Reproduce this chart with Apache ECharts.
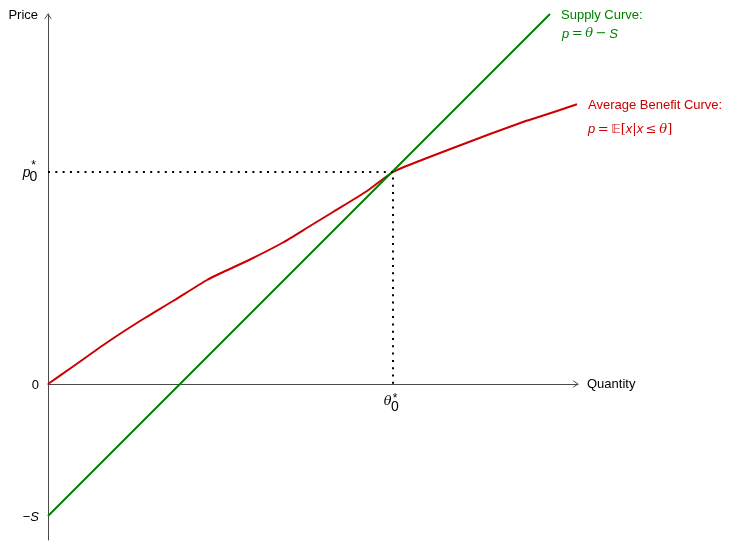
<!DOCTYPE html>
<html>
<head>
<meta charset="utf-8">
<script src="https://cdn.jsdelivr.net/npm/echarts@6/dist/echarts.min.js"></script>
<style>
  html, body { margin: 0; padding: 0; background: #fff; }
  #chart { width: 729px; height: 542px; }
</style>
</head>
<body>
<div id="chart"></div>
<script>
// Supply curve p = θ − S (straight line, two end points)
const supplyTheta = [0, 502];
const supplyPrice = [-132, 370];

// Average benefit curve p = E[x | x ≤ θ]
const benefitTheta = [0, 25, 59, 92, 125, 159, 172, 202, 235, 262, 285, 319, 345, 375, 409, 442, 475, 489, 509, 529];
const benefitPrice = [0, 17.5, 41.5, 63, 83, 104, 110.5, 124.5, 141.5, 158, 172, 193, 212, 224.5, 237.5, 250, 262, 266.5, 273, 279.7];

// Equilibrium point and supply intercept
const thetaStar = 345;
const priceStar = 212;
const supplyIntercept = -132;

// Axis extents
const xMax = 530;
const yMin = -156;
const yMax = 370;

const SANS = '"Liberation Sans", Arial, Helvetica, sans-serif';
const SERIF = '"DejaVu Serif", "Liberation Serif", serif';
const GREEN = '#008000';
const RED = '#cc0000';
const AXIS = '#4a4a4a';

const zip = (xs, ys) => xs.map((x, i) => [x, ys[i]]);

function txt(x, y, text, opt) {
  return {
    type: 'text', x: x, y: y,
    style: Object.assign({
      text: text, fill: '#000', fontSize: 13, fontFamily: SANS,
      textAlign: 'left', textVerticalAlign: 'middle'
    }, opt || {})
  };
}

const mathRich = (color) => ({
  i: { fontFamily: SANS, fontStyle: 'italic', fontSize: 13, color: color },
  o: { fontFamily: SERIF, fontSize: 13, color: color },
  t: { fontFamily: SERIF, fontStyle: 'italic', fontSize: 13, color: color },
  e: { fontFamily: '"DejaVu Sans", sans-serif', fontSize: 13, color: color }
});

const TS = '\u2009'; // thin space around relations

// Annotation anchors (data coordinates) and how each is drawn
const annotations = [
  { key: 'price', x: 0, y: yMax },
  { key: 'quantity', x: xMax, y: 0 },
  { key: 'zero', x: 0, y: 0 },
  { key: 'pstar', x: 0, y: priceStar },
  { key: 'negS', x: 0, y: supplyIntercept },
  { key: 'thetastar', x: thetaStar, y: 0 },
  { key: 'supply', x: supplyTheta[1], y: supplyPrice[1] },
  { key: 'benefit', x: benefitTheta[benefitTheta.length - 1], y: benefitPrice[benefitPrice.length - 1] }
];

function drawAnnotation(params, api) {
  const a = annotations[params.dataIndex];
  const p = api.coord([api.value(0), api.value(1)]);
  const x = p[0], y = p[1];
  let children = [];
  switch (a.key) {
    case 'price':
      children = [txt(x - 10, y + 1, 'Price', { textAlign: 'right' })];
      break;
    case 'quantity':
      children = [txt(x + 9, y, 'Quantity')];
      break;
    case 'zero':
      children = [txt(x - 9, y + 1, '0', { textAlign: 'right' })];
      break;
    case 'negS':
      children = [txt(x - 9, y + 1, '−{i|S}', {
        textAlign: 'right', rich: mathRich('#000')
      })];
      break;
    case 'pstar':
      children = [
        txt(x - 17.5, y + 1, 'p', { textAlign: 'right', fontStyle: 'italic', fontSize: 14 }),
        txt(x - 14.5, y + 5, '0', { textAlign: 'center', fontSize: 14 }),
        txt(x - 14.5, y - 6, '*', { textAlign: 'center', fontSize: 12 })
      ];
      break;
    case 'thetastar':
      children = [
        txt(x - 1.5, y + 18, 'θ', { textAlign: 'right', fontFamily: SERIF, fontStyle: 'italic', fontSize: 13 }),
        txt(x + 2, y + 23, '0', { textAlign: 'center', fontSize: 14 }),
        txt(x + 2, y + 14.5, '*', { textAlign: 'center', fontSize: 12 })
      ];
      break;
    case 'supply':
      children = [
        txt(x + 11, y + 1, 'Supply Curve:', { fill: GREEN }),
        txt(x + 12, y + 20, '{i|p}{o|' + TS + '=' + TS + '}{t|θ}{o|' + TS + '−' + TS + '}{i|S}',
          { fill: GREEN, rich: mathRich(GREEN) })
      ];
      break;
    case 'benefit':
      children = [
        txt(x + 11, y + 1, 'Average Benefit Curve:', { fill: RED }),
        txt(x + 11, y + 25,
          '{i|p}{o|' + TS + '=' + TS + '}{e|𝔼}{o|[}{i|x}{o||}{i|x}{o|' + TS + '≤' + TS + '}{t|θ}{o|]}',
          { fill: RED, rich: mathRich(RED) })
      ];
      break;
  }
  return { type: 'group', children: children };
}

// Open arrow heads at the ends of both axes
const axisEnds = [[xMax, 0, 0], [0, yMax, 1]];
function drawArrow(params, api) {
  const p = api.coord([api.value(0), api.value(1)]);
  const vertical = api.value(2) === 1;
  const pts = vertical
    ? [[p[0] - 3.2, p[1] + 4.8], [p[0], p[1]], [p[0] + 3.2, p[1] + 4.8]]
    : [[p[0] - 4.8, p[1] - 3.2], [p[0], p[1]], [p[0] - 4.8, p[1] + 3.2]];
  return {
    type: 'polyline',
    shape: { points: pts },
    style: { stroke: AXIS, lineWidth: 1, fill: null }
  };
}

const chart = echarts.init(document.getElementById('chart'), null, { renderer: 'canvas' });

chart.setOption({
  animation: false,
  backgroundColor: '#fff',
  grid: { left: 48, right: 151, top: 14, bottom: 2, containLabel: false },
  xAxis: {
    type: 'value', min: 0, max: xMax,
    axisLine: { show: true, onZero: true, lineStyle: { color: AXIS, width: 1 } },
    axisTick: { show: false }, axisLabel: { show: false }, splitLine: { show: false }
  },
  yAxis: {
    type: 'value', min: yMin, max: yMax,
    axisLine: { show: true, onZero: false, lineStyle: { color: AXIS, width: 1 } },
    axisTick: { show: false }, axisLabel: { show: false }, splitLine: { show: false }
  },
  series: [
    {
      name: 'Average Benefit Curve',
      type: 'line', data: zip(benefitTheta, benefitPrice),
      smooth: 0.2, showSymbol: false, symbol: 'none',
      lineStyle: { color: RED, width: 2, join: 'round' }, z: 3
    },
    {
      name: 'Supply Curve',
      type: 'line', data: zip(supplyTheta, supplyPrice),
      showSymbol: false, symbol: 'none',
      lineStyle: { color: GREEN, width: 2 }, z: 4
    },
    {
      name: 'Equilibrium guides',
      type: 'line',
      data: [[0, priceStar], [thetaStar, priceStar], [thetaStar, 0]],
      showSymbol: false, symbol: 'none',
      lineStyle: { color: '#000', width: 2, type: [2, 5.3], cap: 'butt' }, z: 5
    },
    {
      type: 'custom', data: axisEnds, renderItem: drawArrow,
      clip: false, silent: true, z: 6
    },
    {
      type: 'custom', data: annotations.map(a => [a.x, a.y]), renderItem: drawAnnotation,
      clip: false, silent: true, z: 7
    }
  ]
});
</script>
</body>
</html>
